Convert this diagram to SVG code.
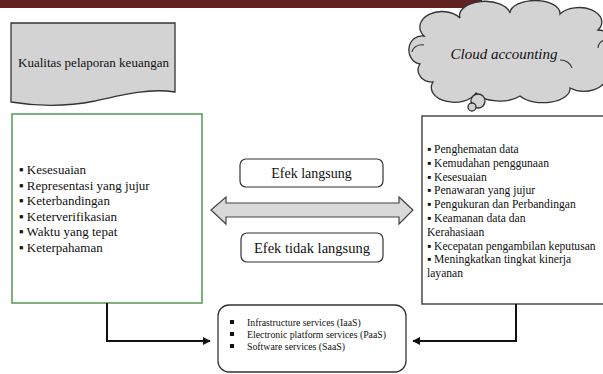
<svg xmlns="http://www.w3.org/2000/svg" width="603" height="374" viewBox="0 0 603 374">
<style>
text{font-family:'Liberation Serif','DejaVu Serif','Times New Roman',serif;fill:#111}
.shape{fill:#d3d3d3;stroke:#333;stroke-width:1.3}
.conn{fill:none;stroke:#111;stroke-width:2}
.lbl{fill:#fff;stroke:#333;stroke-width:1.2}
</style>
<defs>
<marker id="ah" viewBox="0 0 10 10" refX="9" refY="5" markerWidth="4" markerHeight="4" orient="auto" markerUnits="strokeWidth">
<path d="M0,0 L10,5 L0,10 Z" fill="#111"/>
</marker>
</defs>
<rect x="0" y="0" width="482" height="8" fill="#612222"/>

<g id="doc-kualitas">
<path class="shape" d="M11,23 H175 V92 C150,88 125,94 95,101 C65,107 35,106 11,102 Z"/>
<text font-family="Liberation Serif, serif" x="93.5" y="67" font-size="13" text-anchor="middle">Kualitas pelaporan keuangan</text>
</g>

<g id="cloud">
<path class="shape" d="M420,64 A13,14 0 0 1 424,36 A20,14 0 0 1 460,18 A25,14 0 0 1 510,13 A25,13 0 0 1 560,14 A22,14 0 0 1 598,30 A22,24 0 0 1 606,76 A22,14 0 0 1 570,88 A27,14 0 0 1 520,96 A25,12 0 0 1 476,93 A22,14 0 0 1 433,82 A14,12 0 0 1 420,64 Z"/>
<path d="M412,52 A10,8 0 0 1 424,45" fill="none" stroke="#333" stroke-width="1.1"/>
<path d="M560,60 A12,10 0 0 1 572,68" fill="none" stroke="#333" stroke-width="1.1"/>
<path d="M598,48 A8,8 0 0 1 606,40" fill="none" stroke="#333" stroke-width="1.1"/>
<circle class="shape" cx="478" cy="101" r="7"/>
<circle class="shape" cx="472" cy="107" r="4"/>
<text font-family="Liberation Serif, serif" x="504" y="59" font-size="15" font-style="italic" text-anchor="middle">Cloud accounting</text>
</g>

<g id="box-left">
<rect x="12" y="114" width="190" height="189" fill="#fff" stroke="#5e9e5e" stroke-width="1.6"/>
<text font-family="Liberation Serif, serif" font-size="13">
<tspan x="19" y="174">▪ Kesesuaian</tspan>
<tspan x="19" y="189.5">▪ Representasi yang jujur</tspan>
<tspan x="19" y="205">▪ Keterbandingan</tspan>
<tspan x="19" y="220.5">▪ Keterverifikasian</tspan>
<tspan x="19" y="236">▪ Waktu yang tepat</tspan>
<tspan x="19" y="251.5">▪ Keterpahaman</tspan>
</text>
</g>

<g id="box-right">
<rect x="422" y="116" width="190" height="188" fill="#fff" stroke="#555" stroke-width="1.6"/>
<text font-family="Liberation Serif, serif" font-size="11.6">
<tspan x="427" y="153">▪ Penghematan data</tspan>
<tspan x="427" y="166.8">▪ Kemudahan penggunaan</tspan>
<tspan x="427" y="180.6">▪ Kesesuaian</tspan>
<tspan x="427" y="194.4">▪ Penawaran yang jujur</tspan>
<tspan x="427" y="208.2">▪ Pengukuran dan Perbandingan</tspan>
<tspan x="427" y="222">▪ Keamanan data dan</tspan>
<tspan x="427" y="235.8">Kerahasiaan</tspan>
<tspan x="427" y="249.6">▪ Kecepatan pengambilan keputusan</tspan>
<tspan x="427" y="263.4">▪ Meningkatkan tingkat kinerja</tspan>
<tspan x="427" y="277.2">layanan</tspan>
</text>
</g>

<g id="efek-langsung">
<rect class="lbl" x="240" y="159" width="143" height="28" rx="6"/>
<text font-family="Liberation Serif, serif" x="311.5" y="178" font-size="14" text-anchor="middle">Efek langsung</text>
</g>

<g id="double-arrow">
<polygon points="211,210 226,197 226,203 399,203 399,197 413,210 399,224 399,217 226,217 226,224" fill="#d9d9d9" stroke="#444" stroke-width="1.2"/>
</g>

<g id="efek-tidak-langsung">
<rect class="lbl" x="241" y="233" width="142" height="29" rx="6"/>
<text font-family="Liberation Serif, serif" x="312" y="252.5" font-size="14.5" text-anchor="middle">Efek tidak langsung</text>
</g>

<g id="box-services">
<rect x="218" y="305" width="188" height="67" rx="11" fill="#fff" stroke="#333" stroke-width="1.3"/>
<rect x="230" y="320" width="4" height="4" fill="#111"/>
<rect x="230" y="332" width="4" height="4" fill="#111"/>
<rect x="230" y="344" width="4" height="4" fill="#111"/>
<text font-family="Liberation Serif, serif" font-size="9.8">
<tspan x="247" y="326">Infrastructure services (IaaS)</tspan>
<tspan x="247" y="338">Electronic platform services (PaaS)</tspan>
<tspan x="247" y="350">Software services (SaaS)</tspan>
</text>
</g>

<g id="connectors">
<path class="conn" d="M107,303 V341 H210" marker-end="url(#ah)"/>
<path class="conn" d="M516,304 V341 H413" marker-end="url(#ah)"/>
</g>
</svg>
